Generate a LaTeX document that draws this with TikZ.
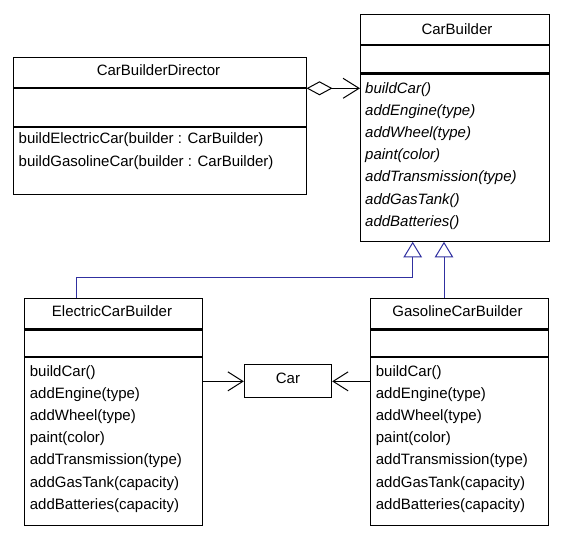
\documentclass[tikz,border=0pt]{standalone}
\usepackage{fontspec}
\setmainfont{Liberation Sans}
\usetikzlibrary{arrows.meta, calc}
\definecolor{genblue}{RGB}{48,48,160}
\tikzset{
  clsbox/.style = {draw, line width=1pt, inner sep=0pt},
  divline/.style = {line width=2.4pt},
  lbl/.style    = {font=\fontsize{15}{18}\selectfont, inner sep=0pt},
  oplbl/.style  = {lbl, anchor=base west},
  aggr/.style   = {{Diamond[open, length=26pt, width=14pt]}-{Straight Barb[length=16pt, width=20pt]}, line width=1pt},
  assoc/.style  = {-{Straight Barb[length=15pt, width=19pt]}, line width=1pt},
  gen/.style    = {-{Triangle[open, length=15.7pt, width=18.7pt]}, line width=1pt, genblue},
}
\newcommand{\umlclass}[7]{%
  \node[clsbox, minimum width=#4pt, minimum height=#5pt] (#1) at (#2,#3) {};
  \draw[divline] ([yshift=-#6pt]#1.north west) -- ([yshift=-#6pt]#1.north east);
  \draw[divline] ([yshift=-#7pt]#1.north west) -- ([yshift=-#7pt]#1.north east);
}

\begin{document}
\begin{tikzpicture}[x=1pt, y=-1pt]
  \useasboundingbox (0,0) rectangle (566,540);
  \umlclass{db}{159.75}{125.9}{292.5}{137.2}{31}{70}
  \umlclass{cb}{454.9}{127.8}{188.8}{227}{31.2}{59.7}
  \umlclass{eb}{113.5}{412}{178.4}{227.4}{31.7}{59.4}
  \umlclass{gb}{459.7}{412}{178}{227.4}{31.7}{59.4}
  \node[clsbox, minimum width=87.4pt, minimum height=32.7pt] (car) at (288,381.35) {};
  % class names
  \node[lbl, anchor=base] (db-name) at (158.5,75.7) {CarBuilderDirector};
  \node[lbl, anchor=base] (cb-name) at (457,34.7) {CarBuilder};
  \node[lbl, anchor=base] (eb-name) at (112,317) {ElectricCarBuilder};
  \node[lbl, anchor=base] (gb-name) at (457.5,317) {GasolineCarBuilder};
  \node[lbl, anchor=base] (car-name) at (288,383.4) {Car};
  % operations
  \foreach \op [count=\i] in {buildElectricCar(builder : CarBuilder), buildGasolineCar(builder : CarBuilder)}
    \node[oplbl] (db-op\i) at (18.5, {143.5+23*(\i-1)}) {\op};
  \foreach \op [count=\i] in {buildCar(), addEngine(type), addWheel(type), paint(color), addTransmission(type), addGasTank(), addBatteries()}
    \node[oplbl] (cb-op\i) at (365, {93.2+22.2*(\i-1)}) {\itshape\op};
  \foreach \op [count=\i] in {buildCar(), addEngine(type), addWheel(type), paint(color), addTransmission(type), addGasTank(capacity), addBatteries(capacity)} {
    \node[oplbl] (eb-op\i) at (29.7, {376.2+22.2*(\i-1)}) {\op};
    \node[oplbl] (gb-op\i) at (375.7, {376.2+22.2*(\i-1)}) {\op};
  }
  % connectors
  \coordinate (aggy) at (0,88.3);
  \draw[aggr] (db.east |- aggy) -- (cb.west |- aggy);
  \draw[assoc] (eb.east |- car) -- (car.west);
  \draw[assoc] (gb.west |- car) -- (car.east);
  \coordinate (ebtop) at ([xshift=-36.8pt]eb.north);
  \coordinate (gbtop) at ([xshift=-15.7pt]gb.north);
  \coordinate (genbend) at (412.7,277.3);
  \draw[gen] (ebtop) |- (genbend) -- (genbend |- cb.south);
  \draw[gen] (gbtop) -- (gbtop |- cb.south);
\end{tikzpicture}
\end{document}
